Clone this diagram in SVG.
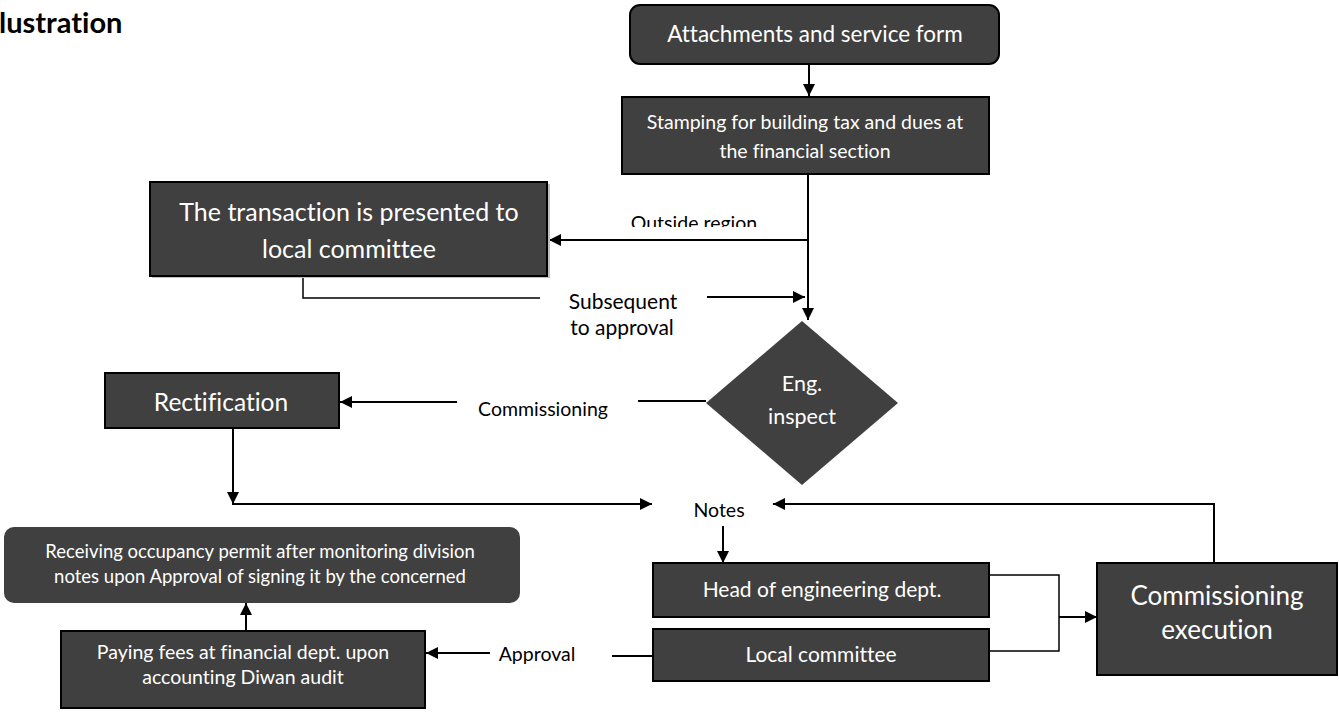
<svg xmlns="http://www.w3.org/2000/svg" width="1339" height="713" viewBox="0 0 1339 713">
  <style>
    text { font-variant-ligatures: none; }
    .box { fill: #404040; stroke: #000; stroke-width: 2; }
    .soft { fill: #404040; stroke: none; }
    .wt { fill: #fff; font-family: Lato, "Liberation Sans", sans-serif; text-anchor: middle; }
    .bt { fill: #000; font-family: Lato, "Liberation Sans", sans-serif; }
    .ln { fill: none; stroke: #000; stroke-width: 2; }
    .thin { fill: none; stroke: #000; stroke-width: 1.5; }
  </style>
  <defs>
    <marker id="arrow" markerUnits="userSpaceOnUse" markerWidth="13" markerHeight="12" refX="12" refY="6" orient="auto">
      <path d="M0,0 L12,6 L0,12 z" fill="#000"/>
    </marker>
    <clipPath id="clipOutside">
      <rect x="620" y="200" width="160" height="27"/>
    </clipPath>
  </defs>

  <!-- heading fragment -->
  <text x="-1" y="33" class="bt" font-size="29" font-weight="bold">lustration</text>

  <!-- connectors -->
  <g id="connectors">
    <line class="ln" x1="809" y1="65" x2="809" y2="96" marker-end="url(#arrow)"/>
    <line class="ln" x1="808" y1="175" x2="808" y2="320" marker-end="url(#arrow)"/>
    <line class="ln" x1="808" y1="240" x2="549" y2="240" marker-end="url(#arrow)"/>
    <path class="thin" d="M303,276 V298 H540"/>
    <line class="ln" x1="707" y1="297" x2="805" y2="297" marker-end="url(#arrow)"/>
    <line class="ln" x1="706" y1="401" x2="638" y2="401"/>
    <line class="ln" x1="457" y1="402" x2="340" y2="402" marker-end="url(#arrow)"/>
    <line class="ln" x1="233" y1="428" x2="233" y2="504" marker-end="url(#arrow)"/>
    <line class="ln" x1="232" y1="504" x2="652" y2="504" marker-end="url(#arrow)"/>
    <path class="ln" d="M1214,563 V504 H773" marker-end="url(#arrow)"/>
    <line class="ln" x1="723" y1="526" x2="723" y2="563" marker-end="url(#arrow)"/>
    <path class="thin" d="M989,575 H1059 V651 H989"/>
    <line class="ln" x1="1059" y1="617" x2="1097" y2="617" marker-end="url(#arrow)"/>
    <line class="ln" x1="612" y1="656" x2="653" y2="656"/>
    <line class="ln" x1="490" y1="653" x2="426" y2="653" marker-end="url(#arrow)"/>
    <line class="ln" x1="246" y1="631" x2="246" y2="603" marker-end="url(#arrow)"/>
  </g>

  <!-- connector labels -->
  <g id="labels">
    <text class="bt" x="694" y="230" text-anchor="middle" font-size="19.5" clip-path="url(#clipOutside)">Outside region</text>
    <text class="bt" x="623" y="309" text-anchor="middle" font-size="21">Subsequent</text>
    <text class="bt" x="622" y="335" text-anchor="middle" font-size="21">to approval</text>
    <text class="bt" x="543" y="416" text-anchor="middle" font-size="19.5">Commissioning</text>
    <text class="bt" x="719" y="517" text-anchor="middle" font-size="19.5">Notes</text>
    <text class="bt" x="537" y="661" text-anchor="middle" font-size="19.5">Approval</text>
  </g>

  <g id="attachments">
    <rect class="box" x="630" y="5" width="369" height="59" rx="10"/>
    <text class="wt" x="815" y="42" font-size="22.5">Attachments and service form</text>
  </g>

  <g id="stamping">
    <rect class="box" x="622" y="97" width="367" height="77"/>
    <text class="wt" x="805" y="129" font-size="19.5">Stamping for building tax and dues at</text>
    <text class="wt" x="805" y="158" font-size="19.5">the financial section</text>
  </g>

  <g id="transaction">
    <rect x="152" y="184" width="398" height="94" fill="#bfbfbf"/>
    <rect class="box" x="150" y="182" width="397" height="94"/>
    <text class="wt" x="349" y="221" font-size="25">The transaction is presented to</text>
    <text class="wt" x="349" y="258" font-size="25">local committee</text>
  </g>

  <g id="inspect">
    <polygon class="soft" points="802,321 898,403 802,485 706,403"/>
    <text class="wt" x="802" y="391" font-size="21.5">Eng.</text>
    <text class="wt" x="802" y="424" font-size="21.5">inspect</text>
  </g>

  <g id="rectification">
    <rect class="box" x="105" y="373" width="234" height="55"/>
    <text class="wt" x="221" y="411" font-size="24.5">Rectification</text>
  </g>

  <g id="head-eng">
    <rect class="box" x="653" y="563" width="336" height="54"/>
    <text class="wt" x="822" y="597" font-size="21">Head of engineering dept.</text>
  </g>

  <g id="local-committee">
    <rect class="box" x="653" y="629" width="336" height="52"/>
    <text class="wt" x="821" y="662" font-size="21">Local committee</text>
  </g>

  <g id="commissioning-execution">
    <rect class="box" x="1097" y="563" width="240" height="112"/>
    <text class="wt" x="1217" y="605" font-size="26">Commissioning</text>
    <text class="wt" x="1217" y="639" font-size="26">execution</text>
  </g>

  <g id="occupancy">
    <rect class="soft" x="4" y="527" width="516" height="76" rx="10"/>
    <text class="wt" x="260" y="558" font-size="18.5">Receiving occupancy permit after monitoring division</text>
    <text class="wt" x="260" y="583" font-size="18.5">notes upon Approval of signing it by the concerned</text>
  </g>

  <g id="paying">
    <rect class="box" x="61" y="631" width="364" height="77"/>
    <text class="wt" x="243" y="659" font-size="19.5">Paying fees at financial dept. upon</text>
    <text class="wt" x="243" y="684" font-size="19.5">accounting Diwan audit</text>
  </g>
</svg>
